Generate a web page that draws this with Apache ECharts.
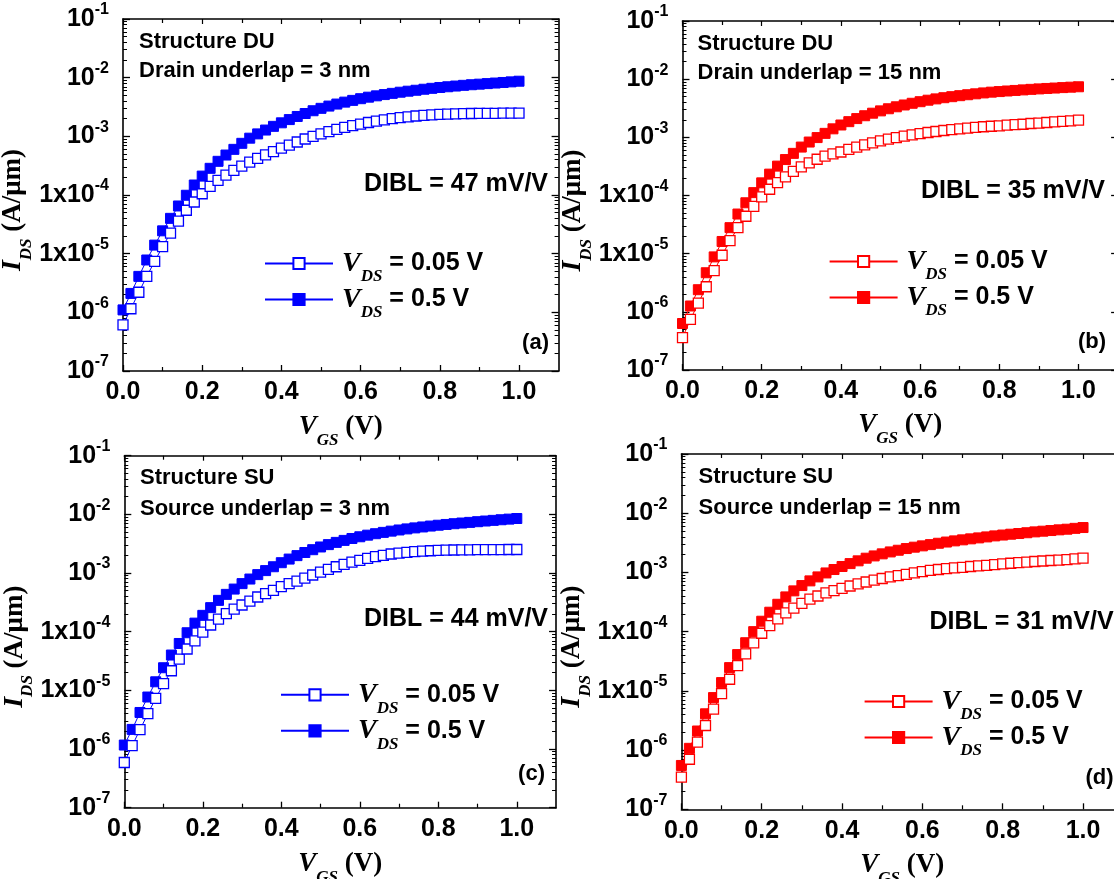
<!DOCTYPE html>
<html><head><meta charset="utf-8">
<script src="https://cdn.jsdelivr.net/npm/echarts@6/dist/echarts.min.js"></script>
<style>html,body{margin:0;padding:0;background:#fff}#c{width:1114px;height:879px}</style>
</head><body><div id="c"></div>
<script>
// ---------------- data ----------------
const vgs = [0.00,0.02,0.04,0.06,0.08,0.10,0.12,0.14,0.16,0.18,0.20,0.22,0.24,0.26,0.28,0.30,0.32,0.34,0.36,0.38,0.40,0.42,0.44,0.46,0.48,0.50,0.52,0.54,0.56,0.58,0.60,0.62,0.64,0.66,0.68,0.70,0.72,0.74,0.76,0.78,0.80,0.82,0.84,0.86,0.88,0.90,0.92,0.94,0.96,0.98,1.00];

// (a) Structure DU, drain underlap 3 nm
const idsA_005 = [6.1e-7,1.15e-6,2.2e-6,4.1e-6,7.4e-6,1.32e-5,2.24e-5,3.6e-5,5.5e-5,7.6e-5,1.05e-4,1.4e-4,1.78e-4,2.18e-4,2.62e-4,3.1e-4,3.62e-4,4.2e-4,4.82e-4,5.5e-4,6.3e-4,7.1e-4,8.0e-4,9.0e-4,1.0e-3,1.1e-3,1.2e-3,1.31e-3,1.42e-3,1.52e-3,1.62e-3,1.72e-3,1.82e-3,1.91e-3,2.0e-3,2.08e-3,2.15e-3,2.22e-3,2.28e-3,2.33e-3,2.37e-3,2.4e-3,2.42e-3,2.44e-3,2.45e-3,2.46e-3,2.47e-3,2.47e-3,2.48e-3,2.48e-3,2.48e-3];
const idsA_05 = [1.1e-6,2.1e-6,4.1e-6,7.8e-6,1.4e-5,2.45e-5,4.0e-5,6.5e-5,9.9e-5,1.48e-4,2.1e-4,2.85e-4,3.75e-4,4.8e-4,6.0e-4,7.6e-4,9.3e-4,1.1e-3,1.28e-3,1.48e-3,1.7e-3,1.93e-3,2.18e-3,2.45e-3,2.73e-3,3.0e-3,3.28e-3,3.55e-3,3.83e-3,4.1e-3,4.38e-3,4.65e-3,4.9e-3,5.15e-3,5.4e-3,5.65e-3,5.88e-3,6.1e-3,6.35e-3,6.58e-3,6.8e-3,7.0e-3,7.2e-3,7.4e-3,7.58e-3,7.75e-3,7.92e-3,8.1e-3,8.28e-3,8.48e-3,8.7e-3];

// (b) Structure DU, drain underlap 15 nm
const idsB_005 = [3.6e-7,7.4e-7,1.41e-6,2.7e-6,5.1e-6,9.4e-6,1.68e-5,2.8e-5,4.4e-5,6.5e-5,9.5e-5,1.28e-4,1.67e-4,2.09e-4,2.59e-4,3.11e-4,3.65e-4,4.2e-4,4.75e-4,5.2e-4,5.6e-4,6.2e-4,6.8e-4,7.4e-4,8.0e-4,8.7e-4,9.3e-4,9.9e-4,1.05e-3,1.1e-3,1.16e-3,1.21e-3,1.26e-3,1.31e-3,1.36e-3,1.4e-3,1.44e-3,1.48e-3,1.52e-3,1.55e-3,1.58e-3,1.62e-3,1.66e-3,1.68e-3,1.73e-3,1.76e-3,1.8e-3,1.85e-3,1.88e-3,1.92e-3,1.97e-3];
const idsB_05 = [6.3e-7,1.26e-6,2.4e-6,4.7e-6,8.8e-6,1.62e-5,2.8e-5,4.8e-5,7.5e-5,1.12e-4,1.65e-4,2.33e-4,3.2e-4,4.15e-4,5.3e-4,6.8e-4,8.3e-4,9.9e-4,1.17e-3,1.4e-3,1.63e-3,1.86e-3,2.1e-3,2.35e-3,2.6e-3,2.85e-3,3.1e-3,3.35e-3,3.6e-3,3.85e-3,4.1e-3,4.35e-3,4.58e-3,4.8e-3,5.0e-3,5.2e-3,5.4e-3,5.6e-3,5.8e-3,5.98e-3,6.12e-3,6.26e-3,6.4e-3,6.54e-3,6.68e-3,6.8e-3,6.92e-3,7.04e-3,7.16e-3,7.28e-3,7.4e-3];

// (c) Structure SU, source underlap 3 nm
const idsC_005 = [5.9e-7,1.14e-6,2.14e-6,4.0e-6,7.3e-6,1.3e-5,2.16e-5,3.42e-5,5.07e-5,7.0e-5,9.8e-5,1.3e-4,1.64e-4,2.03e-4,2.43e-4,2.85e-4,3.33e-4,3.9e-4,4.44e-4,5.07e-4,5.85e-4,6.6e-4,7.3e-4,8.2e-4,9.25e-4,1.04e-3,1.15e-3,1.28e-3,1.41e-3,1.54e-3,1.64e-3,1.78e-3,1.9e-3,2.0e-3,2.11e-3,2.19e-3,2.25e-3,2.31e-3,2.37e-3,2.4e-3,2.43e-3,2.46e-3,2.47e-3,2.48e-3,2.49e-3,2.5e-3,2.5e-3,2.51e-3,2.51e-3,2.52e-3,2.52e-3];
const idsC_05 = [1.17e-6,2.16e-6,4.2e-6,7.7e-6,1.4e-5,2.43e-5,4.0e-5,6.3e-5,9.6e-5,1.4e-4,1.9e-4,2.57e-4,3.42e-4,4.33e-4,5.33e-4,6.6e-4,7.9e-4,9.4e-4,1.1e-3,1.28e-3,1.5e-3,1.73e-3,1.98e-3,2.24e-3,2.5e-3,2.78e-3,3.05e-3,3.33e-3,3.6e-3,3.88e-3,4.15e-3,4.42e-3,4.68e-3,4.93e-3,5.18e-3,5.42e-3,5.65e-3,5.88e-3,6.1e-3,6.32e-3,6.53e-3,6.73e-3,6.93e-3,7.12e-3,7.3e-3,7.5e-3,7.7e-3,7.9e-3,8.1e-3,8.3e-3,8.5e-3];

// (d) Structure SU, source underlap 15 nm
const idsD_005 = [3.5e-7,7.0e-7,1.36e-6,2.6e-6,4.9e-6,9.0e-6,1.57e-5,2.67e-5,4.2e-5,6.45e-5,9.4e-5,1.26e-4,1.64e-4,2.07e-4,2.5e-4,3.0e-4,3.53e-4,4.0e-4,4.5e-4,4.94e-4,5.4e-4,5.9e-4,6.4e-4,6.9e-4,7.4e-4,7.9e-4,8.4e-4,8.85e-4,9.3e-4,9.8e-4,1.03e-3,1.08e-3,1.12e-3,1.16e-3,1.19e-3,1.22e-3,1.26e-3,1.29e-3,1.32e-3,1.36e-3,1.39e-3,1.43e-3,1.46e-3,1.49e-3,1.53e-3,1.56e-3,1.59e-3,1.62e-3,1.65e-3,1.69e-3,1.74e-3];
const idsD_05 = [5.5e-7,1.07e-6,2.1e-6,4.1e-6,7.7e-6,1.38e-5,2.47e-5,4.1e-5,6.5e-5,1.0e-4,1.5e-4,2.13e-4,2.9e-4,3.86e-4,4.88e-4,6.0e-4,7.2e-4,8.4e-4,9.8e-4,1.12e-3,1.26e-3,1.41e-3,1.57e-3,1.74e-3,1.9e-3,2.06e-3,2.22e-3,2.37e-3,2.53e-3,2.67e-3,2.81e-3,2.95e-3,3.11e-3,3.26e-3,3.41e-3,3.55e-3,3.69e-3,3.83e-3,3.98e-3,4.14e-3,4.28e-3,4.42e-3,4.54e-3,4.68e-3,4.84e-3,4.97e-3,5.1e-3,5.24e-3,5.37e-3,5.55e-3,5.73e-3];

// ticks / labels
const xTickValues = [0, 0.2, 0.4, 0.6, 0.8, 1.0];
const xTickLabels = ['0.0', '0.2', '0.4', '0.6', '0.8', '1.0'];
const xMinorTickValues = [0.1, 0.3, 0.5, 0.7, 0.9];
const yTickValues = [1e-7, 1e-6, 1e-5, 1e-4, 1e-3, 1e-2, 1e-1];
const yTickMantissa = ['10', '10', '1x10', '1x10', '10', '10', '10'];
const yTickExponent = ['-7', '-6', '-5', '-4', '-3', '-2', '-1'];
const yMinorMultipliers = [2, 3, 4, 5, 6, 7, 8, 9];
const yMinorDecades = [1e-7, 1e-6, 1e-5, 1e-4, 1e-3, 1e-2];

// text
const panelLetters = ['(a)', '(b)', '(c)', '(d)'];
const structureTexts = ['Structure DU', 'Structure DU', 'Structure SU', 'Structure SU'];
const underlapTexts = ['Drain underlap = 3 nm', 'Drain underlap = 15 nm', 'Source underlap = 3 nm', 'Source underlap = 15 nm'];
const diblTexts = ['DIBL = 47 mV/V', 'DIBL = 35 mV/V', 'DIBL = 44 mV/V', 'DIBL = 31 mV/V'];
const legendVds = ['0.05 V', '0.5 V'];

// ---------------- layout ----------------
const BLUE = '#0000ff', RED = '#ff0000';
const panels = [
  {left:123,   top:19,    width:435.6, height:352,   color:BLUE, low:idsA_005, high:idsA_05,
   legLeft:264, legRow1:262, txtLeft:139, s1:42, s2:70.5, diblRight:548, diblY:184, letRight:549, letY:342.5, nameGapY:73.5, nameGapX:34.5},
  {left:682.5, top:21,    width:435.6, height:349,   color:RED,  low:idsB_005, high:idsB_05,
   legLeft:828.6, legRow1:260, txtLeft:697.5, s1:44.3, s2:73, diblRight:1105, diblY:191.5, letRight:1106, letY:342, nameGapY:72.5, nameGapX:33.5},
  {left:124.3, top:455.7, width:431.75,height:352,   color:BLUE, low:idsC_005, high:idsC_05,
   legLeft:280, legRow1:693.3, txtLeft:140, s1:478.3, s2:509, diblRight:548, diblY:619, letRight:545, letY:774, nameGapY:72.8, nameGapX:34},
  {left:681.4, top:454,   width:441.8, height:355.3, color:RED,  low:idsD_005, high:idsD_05,
   legLeft:863.6, legRow1:700, txtLeft:698.6, s1:476.5, s2:508, diblRight:1113.6, diblY:622.5, letRight:1113.6, letY:777.5, nameGapY:74, nameGapX:34}
];

const yMinorValues = [];
yMinorDecades.forEach(d => yMinorMultipliers.forEach(m => yMinorValues.push(+(m * d).toPrecision(3))));

const SANS = '"Liberation Sans", Arial, sans-serif';
const SERIF = '"Liberation Serif", "Times New Roman", serif';

function yLabelFmt(v) {
  const e = Math.round(Math.log10(v));
  const i = yTickValues.findIndex(t => Math.round(Math.log10(t)) === e);
  if (i < 0) return '';
  return '{b|' + yTickMantissa[i] + '}{s|' + yTickExponent[i] + '}';
}
function xLabelFmt(v) {
  const i = xTickValues.findIndex(t => Math.abs(t - v) < 1e-6);
  return i < 0 ? '' : xTickLabels[i];
}

const grids = [], xAxes = [], yAxes = [], series = [], legends = [], graphics = [];
const axisLineStyle = {color: '#000', width: 1.6};

panels.forEach((p, gi) => {
  grids.push({left: p.left, top: p.top, width: p.width, height: p.height, containLabel: false, outerBoundsMode: 'none'});
  const xBase = xAxes.length, yBase = yAxes.length;
  const xCommon = {type: 'value', gridIndex: gi, min: 0, max: 1.1, splitLine: {show: false}};
  const yCommon = {type: 'log', logBase: 10, gridIndex: gi, min: 1e-7, max: 1e-1, splitLine: {show: false}};
  // x: bottom main, bottom minor, top main, top minor
  xAxes.push(Object.assign({}, xCommon, {
    position: 'bottom',
    axisLine: {show: true, onZero: false, lineStyle: axisLineStyle},
    axisTick: {show: true, inside: true, length: 6, customValues: xTickValues, lineStyle: {color: '#000', width: 1.3}},
    axisLabel: {show: true, customValues: xTickValues, formatter: xLabelFmt, margin: 9,
      color: '#000', fontFamily: SANS, fontWeight: 'bold', fontSize: 25},
    name: '{v|V}{sub|GS}{t| (V)}', nameLocation: 'middle', nameGap: p.nameGapX,
    nameTextStyle: {rich: {
      v: {fontFamily: SERIF, fontStyle: 'italic', fontWeight: 'bold', fontSize: 27, color: '#000'},
      sub: {fontFamily: SERIF, fontStyle: 'italic', fontWeight: 'bold', fontSize: 17, color: '#000', padding: [27, 0, 0, 0]},
      t: {fontFamily: SERIF, fontWeight: 'bold', fontSize: 27, color: '#000'}
    }}
  }));
  xAxes.push(Object.assign({}, xCommon, {
    position: 'bottom', axisLine: {show: false, onZero: false},
    axisTick: {show: true, inside: true, length: 4, customValues: xMinorTickValues, lineStyle: {color: '#000', width: 1.2}},
    axisLabel: {show: false}
  }));
  xAxes.push(Object.assign({}, xCommon, {
    position: 'top', axisLine: {show: true, onZero: false, lineStyle: axisLineStyle},
    axisTick: {show: true, inside: true, length: 5, customValues: xTickValues, lineStyle: {color: '#000', width: 1.2}},
    axisLabel: {show: false}
  }));
  xAxes.push(Object.assign({}, xCommon, {
    position: 'top', axisLine: {show: false, onZero: false},
    axisTick: {show: true, inside: true, length: 4, customValues: xMinorTickValues, lineStyle: {color: '#000', width: 1.2}},
    axisLabel: {show: false}
  }));
  // y: left main, left minor, right main, right minor
  yAxes.push(Object.assign({}, yCommon, {
    position: 'left',
    axisLine: {show: true, onZero: false, lineStyle: axisLineStyle},
    axisTick: {show: true, inside: true, length: 7, customValues: yTickValues, lineStyle: {color: '#000', width: 1.3}},
    axisLabel: {show: true, customValues: yTickValues, formatter: yLabelFmt, margin: 14, color: '#000',
      rich: {
        b: {fontFamily: SANS, fontWeight: 'bold', fontSize: 25, color: '#000'},
        s: {fontFamily: SANS, fontWeight: 'bold', fontSize: 16, color: '#000', padding: [0, 0, 18, 0]}
      }},
    name: '{i|I}{sub|DS}{t| (A/μm)}', nameLocation: 'middle', nameGap: p.nameGapY, nameRotate: 90,
    nameTextStyle: {padding: [0, 30, 0, 0], rich: {
      i: {fontFamily: SERIF, fontStyle: 'italic', fontWeight: 'bold', fontSize: 28, color: '#000'},
      sub: {fontFamily: SERIF, fontStyle: 'italic', fontWeight: 'bold', fontSize: 17, color: '#000', padding: [27, 0, 0, 0]},
      t: {fontFamily: SERIF, fontWeight: 'bold', fontSize: 27, color: '#000'}
    }}
  }));
  yAxes.push(Object.assign({}, yCommon, {
    position: 'left', axisLine: {show: false, onZero: false},
    axisTick: {show: true, inside: true, length: 4, customValues: yMinorValues, lineStyle: {color: '#000', width: 1}},
    axisLabel: {show: false}
  }));
  yAxes.push(Object.assign({}, yCommon, {
    position: 'right', axisLine: {show: true, onZero: false, lineStyle: axisLineStyle},
    axisTick: {show: true, inside: true, length: 7, customValues: yTickValues, lineStyle: {color: '#000', width: 1.3}},
    axisLabel: {show: false}
  }));
  yAxes.push(Object.assign({}, yCommon, {
    position: 'right', axisLine: {show: false, onZero: false},
    axisTick: {show: true, inside: true, length: 4, customValues: yMinorValues, lineStyle: {color: '#000', width: 1}},
    axisLabel: {show: false}
  }));

  const nHigh = 'p' + gi + '_high', nLow = 'p' + gi + '_low';
  series.push({
    name: nHigh, type: 'line', xAxisIndex: xBase, yAxisIndex: yBase,
    data: vgs.map((x, k) => [x, p.high[k]]),
    symbol: 'rect', symbolSize: 10, z: 3,
    itemStyle: {color: p.color, borderColor: p.color, borderWidth: 1},
    lineStyle: {color: p.color, width: 1}, animation: false
  });
  series.push({
    name: nLow, type: 'line', xAxisIndex: xBase, yAxisIndex: yBase,
    data: vgs.map((x, k) => [x, p.low[k]]),
    symbol: 'rect', symbolSize: 10, z: 4,
    itemStyle: {color: '#ffffff', borderColor: p.color, borderWidth: 1.3},
    lineStyle: {color: p.color, width: 1}, animation: false
  });

  legends.push({
    orient: 'vertical', left: p.legLeft, top: p.legRow1 - 12.5, padding: 0,
    itemWidth: 68, itemHeight: 14, itemGap: 0, selectedMode: false,
    data: [nLow, nHigh],
    formatter: name => '{v|V}{sub|DS}{t| = ' + (name === nLow ? legendVds[0] : legendVds[1]) + '}',
    textStyle: {padding: [0, 0, 0, 4], rich: {
      v: {fontFamily: SERIF, fontStyle: 'italic', fontWeight: 'bold', fontSize: 28, color: '#000'},
      sub: {fontFamily: SERIF, fontStyle: 'italic', fontWeight: 'bold', fontSize: 17, color: '#000', padding: [27, 0, 0, 0]},
      t: {fontFamily: SANS, fontWeight: 'bold', fontSize: 25, color: '#000'}
    }}
  });

  const txt = (x, y, text, size, align) => graphics.push({
    type: 'text', x: x, y: y, silent: true,
    style: {text: text, fill: '#000', fontFamily: SANS, fontWeight: 'bold', fontSize: size, align: align, verticalAlign: 'middle'}
  });
  txt(p.txtLeft, p.s1, structureTexts[gi], 22, 'left');
  txt(p.txtLeft, p.s2, underlapTexts[gi], 22, 'left');
  txt(p.diblRight, p.diblY, diblTexts[gi], 25, 'right');
  txt(p.letRight, p.letY, panelLetters[gi], 22, 'right');
});

const chart = echarts.init(document.getElementById('c'), null, {renderer: 'canvas'});
chart.setOption({
  animation: false,
  backgroundColor: '#ffffff',
  grid: grids, xAxis: xAxes, yAxis: yAxes, series: series, legend: legends, graphic: graphics
});
</script></body></html>
